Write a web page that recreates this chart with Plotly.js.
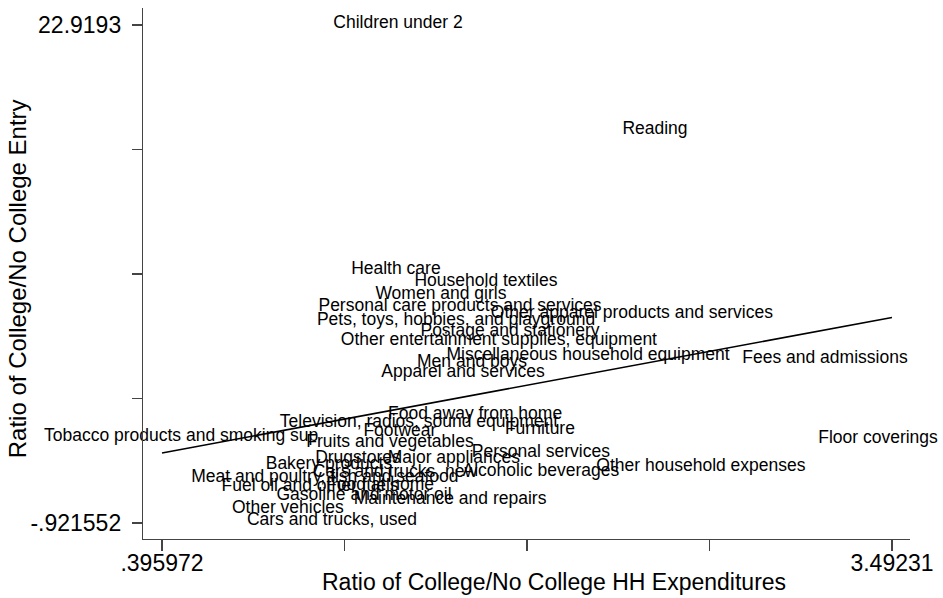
<!DOCTYPE html>
<html>
<head>
<meta charset="utf-8">
<script src="https://cdn.plot.ly/plotly-3.0.1.min.js"></script>
<style>html,body{margin:0;padding:0;background:#fff;}#chart{width:943px;height:598px;}</style>
</head>
<body>
<div id="chart"></div>
<script>
// Category labels
const categories = [
  "Children under 2", "Reading", "Health care", "Household textiles", "Women and girls",
  "Personal care products and services", "Other apparel products and services",
  "Pets, toys, hobbies, and playground", "Postage and stationery",
  "Other entertainment supplies, equipment", "Miscellaneous household equipment",
  "Fees and admissions", "Men and boys", "Apparel and services", "Food away from home",
  "Television, radios, sound equipment", "Furniture", "Footwear",
  "Tobacco products and smoking sup", "Floor coverings", "Fruits and vegetables",
  "Personal services", "Drugstores", "Major appliances", "Bakery products",
  "Other household expenses", "Cars and trucks, new", "Alcoholic beverages",
  "Meat and poultry, fish and seafood", "Food at home", "Fuel oil and other fuels",
  "Gasoline and motor oil", "Maintenance and repairs", "Other vehicles",
  "Cars and trucks, used"
];
// Ratio of College/No College HH Expenditures
const expRatio = [
  1.397, 2.487, 1.388, 1.770, 1.579,
  1.660, 2.389,
  1.643, 1.872,
  1.825, 2.203,
  3.208, 1.711, 1.673, 1.724,
  1.486, 1.999, 1.405,
  0.477, 3.433, 1.363,
  2.003, 1.227, 1.634, 1.104,
  2.682, 1.384, 2.003,
  1.087, 1.321, 1.024,
  1.253, 1.618, 0.930,
  1.117
];
// Ratio of College/No College Entry
const entryRatio = [
  23.01, 17.89, 11.19, 10.61, 9.99,
  9.42, 9.08,
  8.79, 8.22,
  7.79, 7.07,
  6.93, 6.78, 6.26, 4.25,
  3.86, 3.53, 3.43,
  3.19, 3.14, 2.95,
  2.43, 2.14, 2.14, 1.85,
  1.80, 1.47, 1.52,
  1.23, 0.85, 0.80,
  0.37, 0.18, -0.25,
  -0.83
];
// Linear fit line
const fitX = [0.395972, 3.49231];
const fitY = [2.43, 8.92];

// Axis ticks
const xTickVals = [0.395972, 1.17056, 1.94414, 2.71773, 3.49231];
const xTickText = [".395972", "", "", "", "3.49231"];
const yTickVals = [-0.921552, 5.03866, 10.99887, 16.95908, 22.9193];
const yTickText = ["-.921552", "", "", "", "22.9193"];

const FONT = "Liberation Sans, Arial, Helvetica, sans-serif";

const traces = [
  {
    x: fitX, y: fitY, type: "scatter", mode: "lines",
    line: {color: "#000", width: 1.6}, hoverinfo: "skip"
  },
  {
    x: expRatio, y: entryRatio, text: categories, type: "scatter", mode: "text",
    textposition: "middle center",
    textfont: {family: FONT, size: 17.5, color: "#000"},
    cliponaxis: false, hoverinfo: "skip"
  }
];

const axisCommon = {
  showgrid: false, zeroline: false, showline: true,
  linecolor: "#444", linewidth: 1.2,
  ticks: "outside", tickcolor: "#444", tickwidth: 1.2,
  tickmode: "array",
  tickfont: {family: FONT, size: 23, color: "#000"},
  fixedrange: true
};

const layout = {
  width: 943, height: 598,
  margin: {l: 143, r: 33, t: 8, b: 59},
  paper_bgcolor: "#fff", plot_bgcolor: "#fff",
  showlegend: false,
  xaxis: Object.assign({}, axisCommon, {
    range: [0.31538, 3.56866],
    tickvals: xTickVals, ticktext: xTickText,
    ticklen: 11, ticklabelstandoff: -8
  }),
  yaxis: Object.assign({}, axisCommon, {
    range: [-1.68752, 23.73314],
    tickvals: yTickVals, ticktext: yTickText,
    ticklen: 10, ticklabelstandoff: 6
  }),
  annotations: [
    {
      text: "Ratio of College/No College HH Expenditures",
      xref: "paper", yref: "paper", x: 0.536, y: -0.081,
      xanchor: "center", yanchor: "middle", showarrow: false,
      font: {family: FONT, size: 23, color: "#000"}
    },
    {
      text: "Ratio of College/No College Entry",
      xref: "paper", yref: "paper", x: -0.164, y: 0.4896,
      xanchor: "center", yanchor: "middle", showarrow: false, textangle: -90,
      font: {family: FONT, size: 24, color: "#000"}
    }
  ]
};

Plotly.newPlot("chart", traces, layout, {displayModeBar: false, staticPlot: true});
</script>
</body>
</html>
